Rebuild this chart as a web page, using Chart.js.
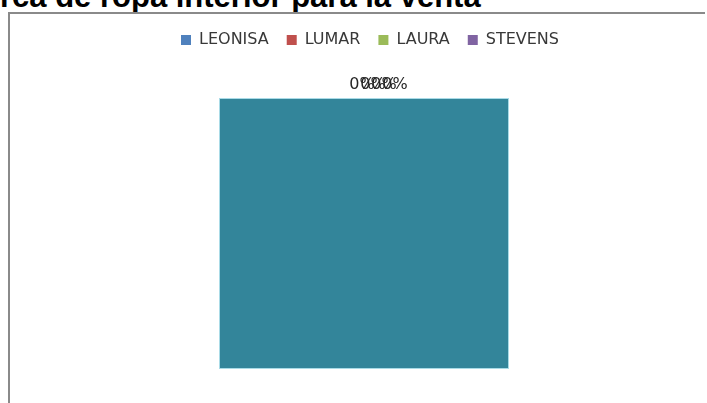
<!DOCTYPE html>
<html>
<head>
<meta charset="utf-8">
<script src="https://cdn.jsdelivr.net/npm/chart.js@4"></script>
<style>
html,body{margin:0;padding:0;background:#fff;}
body{width:707px;height:403px;overflow:hidden;position:relative;}
#title{position:absolute;left:0;top:-19px;font:bold 31px "Liberation Sans",Arial,sans-serif;line-height:31px;white-space:nowrap;color:#000;}
#frame{position:absolute;left:8px;top:12px;width:697px;height:420px;border-left:2px solid #8a8a8a;border-top:2px solid #8a8a8a;box-sizing:border-box;}
#c{position:absolute;left:0;top:0;}
</style>
</head>
<body>
<div id="title">rca de ropa interior para la venta</div>
<div id="frame"></div>
<canvas id="c" width="707" height="403"></canvas>
<script>
// Data
const categories = ['LEONISA', 'LUMAR', 'LAURA', 'STEVENS'];
const values = [0, 0, 0, 0];
const legendColors = ['#4F81BD', '#C0504D', '#9BBB59', '#8064A2'];

const plotFill = '#33859A';
const labelNudge = [-2, 9, 20, 31];

const plotAreaPlugin = {
  id: 'plotArea',
  beforeDatasetsDraw(chart) {
    const a = chart.chartArea, ctx = chart.ctx;
    ctx.save();
    ctx.fillStyle = plotFill;
    ctx.fillRect(a.left, a.top, a.right - a.left, a.bottom - a.top);
    ctx.strokeStyle = 'rgba(160,215,228,0.9)';
    ctx.lineWidth = 1;
    ctx.strokeRect(a.left - 0.5, a.top - 0.5, a.right - a.left + 1, a.bottom - a.top + 1);
    ctx.restore();
  }
};

const pctLabelPlugin = {
  id: 'pctLabels',
  afterDatasetsDraw(chart) {
    const ctx = chart.ctx;
    const meta = chart.getDatasetMeta(0);
    const data = chart.data.datasets[0].data;
    const total = data.reduce((s, v) => s + v, 0);
    ctx.save();
    ctx.font = '16px "DejaVu Sans"';
    ctx.fillStyle = '#262626';
    ctx.textAlign = 'center';
    ctx.textBaseline = 'middle';
    meta.data.forEach((arc, i) => {
      const p = arc.getProps(['x', 'y', 'startAngle', 'endAngle', 'outerRadius'], true);
      const mid = (p.startAngle + p.endAngle) / 2;
      const r = p.outerRadius + 14;
      const pct = total > 0 ? Math.round(data[i] / total * 100) : 0;
      ctx.fillText(pct + '%', p.x + Math.cos(mid) * r + labelNudge[i], p.y + Math.sin(mid) * r);
    });
    ctx.restore();
  }
};

const hiddenAxis = (pos, size) => ({
  type: 'linear', position: pos, display: true,
  grid: { display: false }, border: { display: false }, ticks: { display: false },
  afterFit(s) { if (pos === 'top') s.height = size; else s.width = size; }
});

new Chart(document.getElementById('c'), {
  type: 'pie',
  data: {
    labels: categories,
    datasets: [{ data: values, backgroundColor: legendColors, borderWidth: 0 }]
  },
  options: {
    responsive: false,
    animation: false,
    devicePixelRatio: 1,
    layout: { padding: { left: 33, right: 0, top: 14, bottom: 35 } },
    scales: {
      yl: hiddenAxis('left', 187),
      yr: hiddenAxis('right', 199),
      xt: hiddenAxis('top', 41)
    },
    plugins: {
      legend: {
        position: 'top',
        labels: {
          boxWidth: 10, boxHeight: 10, padding: 18,
          color: '#383838',
          font: { family: 'DejaVu Sans', size: 16 }
        }
      },
      tooltip: { enabled: false }
    }
  },
  plugins: [plotAreaPlugin, pctLabelPlugin]
});
</script>
</body>
</html>
